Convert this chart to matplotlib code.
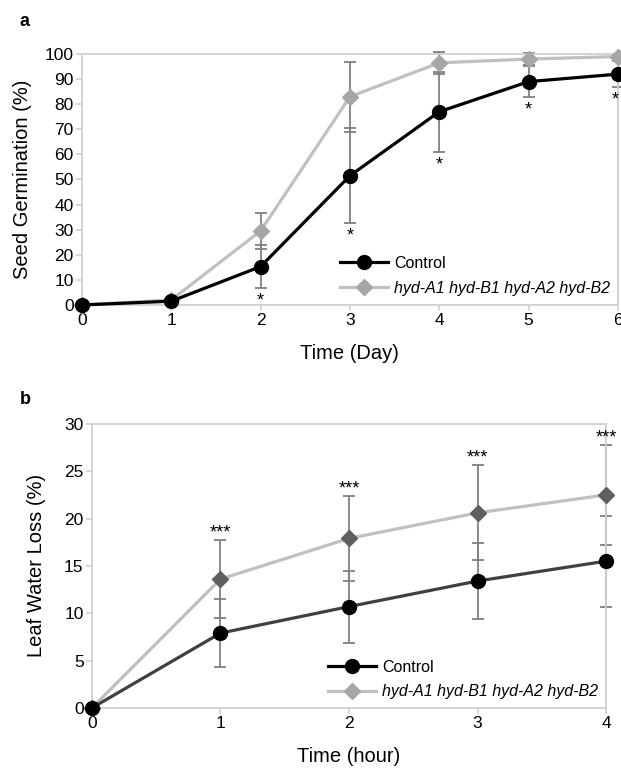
import matplotlib.pyplot as plt
import numpy as np

plt.rcParams['font.family'] = ['Liberation Sans', 'DejaVu Sans']

# panel a: seed germination
days = [0, 1, 2, 3, 4, 5, 6]
germ_ctrl = [0, 1.5, 15.3, 51.5, 77, 89, 92]
germ_ctrl_err = [0, 0, 8.5, 19, 16, 6.2, 5.3]
germ_mut = [0, 2, 29.5, 83, 96.5, 98, 99]
germ_mut_err = [0, 0, 7.2, 14, 4.5, 2.5, 1]
germ_star = [False, False, True, True, True, True, True]

# panel b: leaf water loss
hours = [0, 1, 2, 3, 4]
loss_ctrl = [0, 7.9, 10.7, 13.4, 15.5]
loss_ctrl_err = [0, 3.6, 3.8, 4.0, 4.8]
loss_mut = [0, 13.6, 17.9, 20.6, 22.5]
loss_mut_err = [0, 4.1, 4.5, 5.0, 5.3]
loss_star = [False, True, True, True, True]

labels = ['Control', 'hyd-A1 hyd-B1 hyd-A2 hyd-B2']

fig = plt.figure(figsize=(6.21, 7.72), dpi=100)
ax1 = fig.add_axes([0.132, 0.605, 0.863, 0.325])
ax2 = fig.add_axes([0.148, 0.083, 0.828, 0.368])

spine_c = '#d0d0d0'
err_c = '#808080'


def style_axes(ax):
    for s in ax.spines.values():
        s.set_color(spine_c)
        s.set_linewidth(1.3)
    ax.tick_params(axis='both', direction='out', length=4, width=1.2,
                   color=spine_c, labelsize=12.5, pad=2)


# ---- panel a
ax1.errorbar(days, germ_ctrl, yerr=germ_ctrl_err, fmt='none', ecolor=err_c,
             elinewidth=1.3, capsize=4, capthick=1.3, zorder=2, clip_on=False)
ax1.errorbar(days, germ_mut, yerr=germ_mut_err, fmt='none', ecolor=err_c,
             elinewidth=1.3, capsize=4, capthick=1.3, zorder=2, clip_on=False)
ax1.plot(days, germ_mut, color='#c0c0c0', lw=2.3, marker='D', ms=8.5,
         mfc='#a6a6a6', mec='#a6a6a6', zorder=3, clip_on=False, label=labels[1])
ax1.plot(days, germ_ctrl, color='black', lw=2.3, marker='o', ms=10,
         mfc='black', mec='black', zorder=4, clip_on=False, label=labels[0])
for x, y, e, s in zip(days, germ_ctrl, germ_ctrl_err, germ_star):
    if s:
        ax1.annotate('*', (x, y - e), xytext=(-2 if x == 6 else 0, -3),
                     textcoords='offset points', ha='center', va='top', fontsize=13)
ax1.set_xlim(0, 6)
ax1.set_ylim(0, 100)
ax1.set_xticks(days)
ax1.set_yticks(range(0, 101, 10))
ax1.set_xlabel('Time (Day)', fontsize=14.5, labelpad=11)
ax1.set_ylabel('Seed Germination (%)', fontsize=14.5, labelpad=9)
style_axes(ax1)
h, l = ax1.get_legend_handles_labels()
leg1 = ax1.legend(h[::-1], l[::-1], loc='lower right', bbox_to_anchor=(1.012, -0.02),
                  frameon=False, fontsize=11.5, handlelength=3.0, handletextpad=0.35,
                  labelspacing=0.6)
leg1.get_texts()[1].set_style('italic')

# ---- panel b
ax2.errorbar(hours, loss_ctrl, yerr=loss_ctrl_err, fmt='none', ecolor=err_c,
             elinewidth=1.3, capsize=4, capthick=1.3, zorder=2, clip_on=False)
ax2.errorbar(hours, loss_mut, yerr=loss_mut_err, fmt='none', ecolor=err_c,
             elinewidth=1.3, capsize=4, capthick=1.3, zorder=2, clip_on=False)
ax2.plot(hours, loss_mut, color='#c0c0c0', lw=2.3, marker='D', ms=8.5,
         mfc='#5f5f5f', mec='#5f5f5f', zorder=3, clip_on=False)
ax2.plot(hours, loss_ctrl, color='#404040', lw=2.3, marker='o', ms=10,
         mfc='black', mec='black', zorder=4, clip_on=False)
for x, y, e, s in zip(hours, loss_mut, loss_mut_err, loss_star):
    if s:
        ax2.annotate('***', (x, y + e), xytext=(0, -1), textcoords='offset points',
                     ha='center', va='bottom', fontsize=13)
ax2.set_xlim(0, 4)
ax2.set_ylim(0, 30)
ax2.set_xticks(hours)
ax2.set_yticks(range(0, 31, 5))
ax2.set_xlabel('Time (hour)', fontsize=14.5, labelpad=11)
ax2.set_ylabel('Leaf Water Loss (%)', fontsize=14.5, labelpad=13)
style_axes(ax2)
h_ctrl, = ax2.plot([], [], color='black', lw=2.3, marker='o', ms=10, mfc='black', mec='black')
h_mut, = ax2.plot([], [], color='#c0c0c0', lw=2.3, marker='D', ms=8.5, mfc='#a6a6a6', mec='#a6a6a6')
leg2 = ax2.legend([h_ctrl, h_mut], labels, loc='lower right', bbox_to_anchor=(1.012, -0.02),
                  frameon=False, fontsize=11.5, handlelength=3.0, handletextpad=0.35,
                  labelspacing=0.6)
leg2.get_texts()[1].set_style('italic')

fig.text(0.032, 0.972, 'a', fontsize=13, fontweight='bold', va='center')
fig.text(0.032, 0.483, 'b', fontsize=13, fontweight='bold', va='center')

fig.savefig('out.png', dpi=100)
